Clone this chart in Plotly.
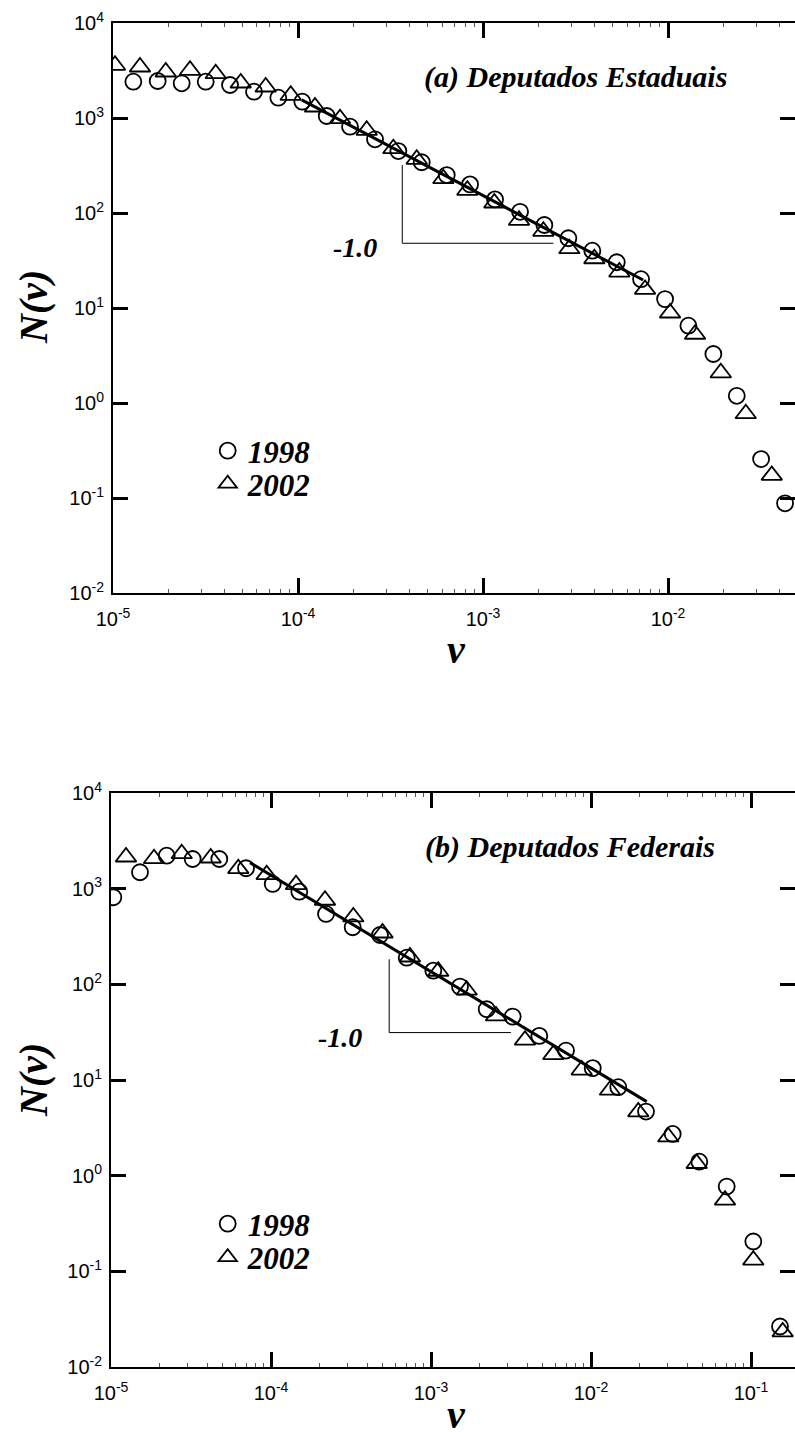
import plotly.graph_objects as go

# ---------------- Panel (a) Deputados Estaduais ----------------
a_v_1998 = [1.288e-5, 1.744e-5, 2.351e-5, 3.170e-5, 4.290e-5, 5.782e-5, 7.823e-5,
            1.055e-4, 1.429e-4, 1.910e-4, 2.607e-4, 3.485e-4, 4.662e-4, 6.364e-4,
            8.506e-4, 1.161e-3, 1.585e-3, 2.145e-3, 2.891e-3, 3.897e-3, 5.280e-3,
            7.145e-3, 9.634e-3, 1.288e-2, 1.757e-2, 2.351e-2, 3.182e-2, 4.288e-2]
a_N_1998 = [2410, 2452, 2319, 2410, 2225, 1891, 1636,
            1484, 1050, 810, 597, 449, 342, 251,
            200, 139, 103, 74.8, 54.2, 40.1, 30.3,
            20.1, 12.4, 6.51, 3.28, 1.19, 0.257, 0.0879]
a_v_2002 = [1.025e-5, 1.399e-5, 1.928e-5, 2.607e-5, 3.590e-5, 4.901e-5, 6.688e-5,
            9.131e-5, 1.235e-4, 1.686e-4, 2.351e-4, 3.274e-4, 4.381e-4, 6.100e-4,
            8.225e-4, 1.151e-3, 1.565e-3, 2.118e-3, 2.927e-3, 3.995e-3, 5.454e-3,
            7.510e-3, 1.025e-2, 1.399e-2, 1.927e-2, 2.630e-2, 3.634e-2]
a_N_2002 = [3586, 3442, 3050, 3178, 2927, 2336, 2120,
            1734, 1306, 983, 742, 475, 367.6, 229.7,
            173.3, 127.4, 83.8, 64.2, 42.1, 33.0, 23.9,
            15.7, 8.86, 5.29, 2.08, 0.772, 0.173]
a_fit_v = [1.047e-4, 7.33e-3]
a_fit_N = [1549, 19.7]
a_slope_v = [3.66e-4, 3.66e-4, 2.40e-3]
a_slope_N = [320, 48.0, 48.0]

# ---------------- Panel (b) Deputados Federais ----------------
b_v_1998 = [1.034e-5, 1.518e-5, 2.229e-5, 3.240e-5, 4.752e-5, 6.979e-5, 1.025e-4,
            1.503e-4, 2.207e-4, 3.240e-4, 4.801e-4, 7.049e-4, 1.034e-3, 1.518e-3,
            2.229e-3, 3.240e-3, 4.752e-3, 6.979e-3, 1.025e-2, 1.481e-2, 2.207e-2,
            3.240e-2, 4.752e-2, 7.049e-2, 0.1034, 0.1518]
b_N_1998 = [813, 1484, 2212, 2043, 2043, 1634, 1120,
            930, 544, 395, 328, 190, 139, 94.6,
            54.9, 46.0, 28.9, 20.3, 13.3, 8.41, 4.68,
            2.73, 1.40, 0.769, 0.205, 0.0265]
b_v_2002 = [1.241e-5, 1.857e-5, 2.766e-5, 4.199e-5, 6.245e-5, 9.399e-5, 1.433e-4,
            2.175e-4, 3.269e-4, 4.977e-4, 7.389e-4, 1.110e-3, 1.671e-3, 2.548e-3,
            3.868e-3, 5.814e-3, 8.747e-3, 1.314e-2, 1.975e-2, 3.041e-2, 4.576e-2,
            6.880e-2, 0.1034, 0.1578]
b_N_2002 = [2144, 2058, 2321, 2093, 1618, 1401, 1101,
            757, 506, 344, 193, 137, 86.8, 46.7,
            26.1, 18.4, 12.7, 7.82, 4.64, 2.54, 1.34,
            0.555, 0.131, 0.0233]
b_fit_v = [7.40e-5, 2.23e-2]
b_fit_N = [1871, 5.94]
b_slope_v = [5.48e-4, 5.48e-4, 3.16e-3]
b_slope_N = [183, 31.3, 31.3]

# ---------------- Tick labels ----------------
y_tickvals = [1e-2, 1e-1, 1e0, 1e1, 1e2, 1e3, 1e4]
y_ticktext = ["10<sup>-2</sup>", "10<sup>-1</sup>", "10<sup>0</sup>", "10<sup>1</sup>",
              "10<sup>2</sup>", "10<sup>3</sup>", "10<sup>4</sup>"]
a_x_tickvals = [1e-5, 1e-4, 1e-3, 1e-2]
a_x_ticktext = ["10<sup>-5</sup>", "10<sup>-4</sup>", "10<sup>-3</sup>", "10<sup>-2</sup>"]
b_x_tickvals = [1e-5, 1e-4, 1e-3, 1e-2, 1e-1]
b_x_ticktext = ["10<sup>-5</sup>", "10<sup>-4</sup>", "10<sup>-3</sup>", "10<sup>-2</sup>",
                "10<sup>-1</sup>"]

W, H = 795, 1432
SERIF = "Liberation Serif, Times New Roman, serif"
SANS = "Liberation Sans, Arial, sans-serif"

minor_a = [k * 10.0 ** e for e in range(-5, -1) for k in range(2, 10)]
minor_b = [k * 10.0 ** e for e in range(-5, 0) for k in range(2, 10)]

circ = dict(symbol="circle-open", size=16, color="black", line=dict(width=1.8, color="black"))
tri = dict(symbol="triangle-up-open", size=18, color="black", line=dict(width=1.8, color="black"))

fig = go.Figure()

# panel (a)
fig.add_trace(go.Scatter(x=a_fit_v, y=a_fit_N, mode="lines", line=dict(color="black", width=3),
                         xaxis="x", yaxis="y", showlegend=False))
fig.add_trace(go.Scatter(x=a_slope_v, y=a_slope_N, mode="lines", line=dict(color="black", width=1),
                         xaxis="x", yaxis="y", showlegend=False))
fig.add_trace(go.Scatter(x=a_v_1998, y=a_N_1998, mode="markers", marker=circ,
                         name="<b><i>1998</i></b>", xaxis="x", yaxis="y", legend="legend"))
fig.add_trace(go.Scatter(x=a_v_2002, y=a_N_2002, mode="markers", marker=tri,
                         name="<b><i>2002</i></b>", xaxis="x", yaxis="y", legend="legend2"))

# panel (b)
fig.add_trace(go.Scatter(x=b_fit_v, y=b_fit_N, mode="lines", line=dict(color="black", width=3),
                         xaxis="x2", yaxis="y2", showlegend=False))
fig.add_trace(go.Scatter(x=b_slope_v, y=b_slope_N, mode="lines", line=dict(color="black", width=1),
                         xaxis="x2", yaxis="y2", showlegend=False))
fig.add_trace(go.Scatter(x=b_v_1998, y=b_N_1998, mode="markers", marker=circ,
                         name="<b><i>1998</i></b>", xaxis="x2", yaxis="y2", legend="legend3"))
fig.add_trace(go.Scatter(x=b_v_2002, y=b_N_2002, mode="markers", marker=tri,
                         name="<b><i>2002</i></b>", xaxis="x2", yaxis="y2", legend="legend4"))


def base_axis(**kw):
    d = dict(type="log", showgrid=False, zeroline=False, showline=True, linecolor="black",
             linewidth=2, ticks="inside", ticklen=15, tickwidth=2.5, tickcolor="black",
             tickfont=dict(family=SANS, size=20, color="black"), tickmode="array",
             automargin=False, mirror="ticks")
    d.update(kw)
    return d


a_dom_x = [113 / W, 1.0]
a_dom_y = [1 - 593 / H, 1 - 23 / H]
b_dom_x = [111 / W, 1.0]
b_dom_y = [1 - 1367 / H, 1 - 793 / H]

minor_style = dict(ticks="inside", ticklen=4, tickwidth=1, tickcolor="#555", showgrid=False,
                   tickmode="array")

legend_common = dict(xanchor="left", yanchor="top", bgcolor="rgba(0,0,0,0)", borderwidth=0,
                     font=dict(family=SERIF, size=31, color="black"), itemwidth=30)

fig.update_layout(
    width=W, height=H, margin=dict(l=0, r=0, t=0, b=0),
    paper_bgcolor="white", plot_bgcolor="white",
    xaxis=base_axis(domain=a_dom_x, anchor="y", range=[-5, -1.314],
                    tickvals=a_x_tickvals, ticktext=a_x_ticktext, ticklabelstandoff=7,
                    minor=dict(minor_style, tickvals=minor_a)),
    yaxis=base_axis(domain=a_dom_y, anchor="x", range=[-2, 4], ticklabelstandoff=3,
                    tickvals=y_tickvals, ticktext=y_ticktext),
    xaxis2=base_axis(domain=b_dom_x, anchor="y2", range=[-5, -0.725],
                     tickvals=b_x_tickvals, ticktext=b_x_ticktext, ticklabelstandoff=7,
                     minor=dict(minor_style, tickvals=minor_b)),
    yaxis2=base_axis(domain=b_dom_y, anchor="x2", range=[-2, 4], ticklabelstandoff=3,
                     tickvals=y_tickvals, ticktext=y_ticktext),
    legend=dict(legend_common, x=207.7 / W, y=1 - 424.0 / H),
    legend2=dict(legend_common, x=207.7 / W, y=1 - 457.0 / H),
    legend3=dict(legend_common, x=207.7 / W, y=1 - 1197.0 / H),
    legend4=dict(legend_common, x=207.7 / W, y=1 - 1230.5 / H),
)

ann_font_big = dict(family=SERIF, size=30, color="black")
ann_font_slope = dict(family=SERIF, size=28, color="black")
ann_font_title = dict(family=SERIF, size=40, color="black")

annotations = [
    dict(text="<b><i>(a) Deputados Estaduais</i></b>", xref="paper", yref="paper",
         x=575 / W, y=1 - 77 / H, xanchor="center", yanchor="middle", showarrow=False,
         font=ann_font_big),
    dict(text="<b><i>(b) Deputados Federais</i></b>", xref="paper", yref="paper",
         x=570 / W, y=1 - 847 / H, xanchor="center", yanchor="middle", showarrow=False,
         font=ann_font_big),
    dict(text="<b><i>-1.0</i></b>", xref="x", yref="y", x=-3.692, y=1.632,
         xanchor="center", yanchor="middle", showarrow=False, font=ann_font_slope),
    dict(text="<b><i>-1.0</i></b>", xref="x2", yref="y2", x=-3.569, y=1.44,
         xanchor="center", yanchor="middle", showarrow=False, font=ann_font_slope),
    dict(text="<b><i>N(ν)</i></b>", xref="paper", yref="paper", x=33 / W, y=1 - 307 / H,
         xanchor="center", yanchor="middle", textangle=-90, showarrow=False,
         font=ann_font_title),
    dict(text="<b><i>N(ν)</i></b>", xref="paper", yref="paper", x=33 / W, y=1 - 1080 / H,
         xanchor="center", yanchor="middle", textangle=-90, showarrow=False,
         font=ann_font_title),
    dict(text="<b><i>ν</i></b>", xref="paper", yref="paper", x=456 / W, y=1 - 649 / H,
         xanchor="center", yanchor="middle", showarrow=False, font=ann_font_title),
    dict(text="<b><i>ν</i></b>", xref="paper", yref="paper", x=456 / W, y=1 - 1414 / H,
         xanchor="center", yanchor="middle", showarrow=False, font=ann_font_title),
]
fig.update_layout(annotations=annotations)

fig.write_html("out.html")
